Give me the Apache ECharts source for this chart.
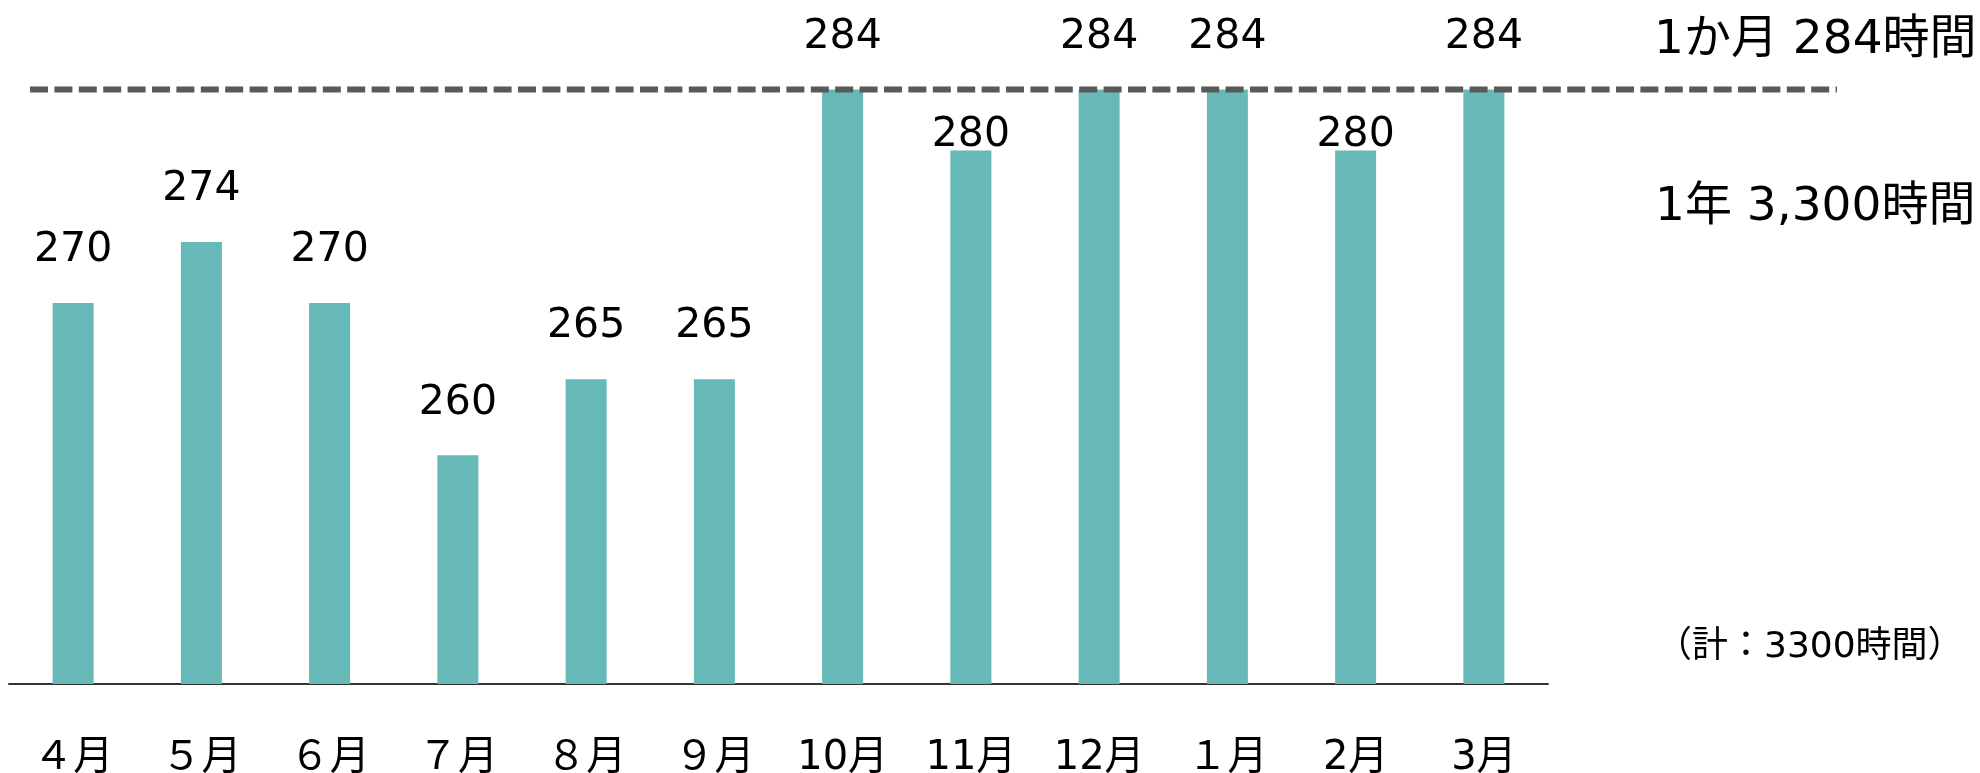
<!DOCTYPE html>
<html>
<head>
<meta charset="utf-8">
<script src="https://cdn.jsdelivr.net/npm/echarts@6/dist/echarts.min.js"></script>
<style>
html,body{margin:0;padding:0;background:#fff;}
#chart{width:1980px;height:773px;}
</style>
</head>
<body>
<div id="chart"></div>
<script>
// ---- data ----
const categories = ['４月','５月','６月','７月','８月','９月','10月','11月','12月','１月','2月','3月'];
const hours = [270, 274, 270, 260, 265, 265, 284, 280, 284, 284, 280, 284];
const monthlyLimit = 284;
const limitLineX = [0, 1];
const noteMonthly = '1か月 284時間';
const noteYearly = '1年 3,300時間';
const noteTotal = '（計：3300時間）';

const FONT = '"DejaVu Sans", "Noto Sans CJK JP", sans-serif';
const yMin = 245, yMax = 285;

// labels of bars just under the limit line are tucked closer to the bar so they stay clear of the line
const barData = hours.map(v => {
  if (v < monthlyLimit && v > monthlyLimit - 8) {
    return {value: v, label: {distance: -5}};
  }
  return v;
});

const chart = echarts.init(document.getElementById('chart'), null, {renderer: 'canvas'});
chart.setOption({
  backgroundColor: '#ffffff',
  animation: false,
  textStyle: {fontFamily: FONT},
  grid: [
    {left: 9, width: 1539, top: 74.3, height: 609.7, containLabel: false, outerBoundsMode: 'none'},
    {left: 30, width: 1807, top: 74.3, height: 609.7, containLabel: false, outerBoundsMode: 'none'}
  ],
  xAxis: [
    {
      type: 'category', gridIndex: 0, data: categories,
      axisLine: {show: true, lineStyle: {color: '#333333', width: 2}},
      axisTick: {show: false},
      axisLabel: {margin: 55, fontSize: 40, color: '#000000', fontFamily: FONT},
      splitLine: {show: false}
    },
    {type: 'value', gridIndex: 1, min: 0, max: 1, show: false}
  ],
  yAxis: [
    {type: 'value', gridIndex: 0, min: yMin, max: yMax, show: false, splitLine: {show: false}},
    {type: 'value', gridIndex: 1, min: yMin, max: yMax, show: false, splitLine: {show: false}}
  ],
  series: [
    {
      type: 'bar', xAxisIndex: 0, yAxisIndex: 0,
      data: barData, barWidth: 41,
      itemStyle: {color: '#66b9b6'},
      label: {show: true, position: 'top', distance: 32, fontSize: 41, color: '#000000', fontFamily: FONT},
      z: 2
    },
    {
      type: 'line', xAxisIndex: 1, yAxisIndex: 1,
      data: limitLineX.map(x => [x, monthlyLimit]),
      symbol: 'none',
      lineStyle: {color: '#595959', width: 6, type: [18, 6.4], cap: 'butt'},
      z: 5, silent: true
    }
  ],
  graphic: [
    {type: 'text', left: 1654, top: 17, style: {text: noteMonthly, font: '47px ' + FONT, fill: '#000000'}},
    {type: 'text', left: 1655, top: 184, style: {text: noteYearly, font: '47px ' + FONT, fill: '#000000'}},
    {type: 'text', left: 1656, top: 630, style: {text: noteTotal, font: '36px ' + FONT, fill: '#000000'}}
  ]
});
</script>
</body>
</html>
